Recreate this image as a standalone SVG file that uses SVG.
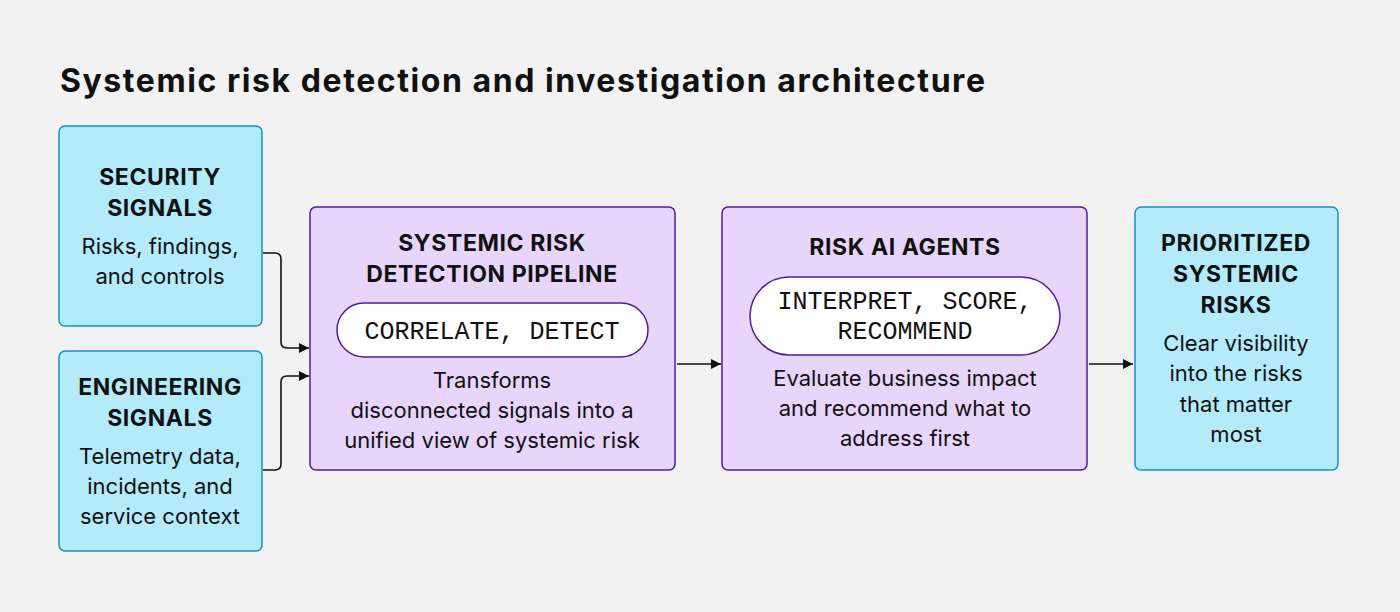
<svg xmlns="http://www.w3.org/2000/svg" width="1400" height="612" viewBox="0 0 1400 612">
<defs>
<style>
.blue{fill:#b3ebfb;stroke:#1a8fc7;stroke-width:1.5}
.purp{fill:#e7d5fc;stroke:#4f1d9c;stroke-width:1.5}
.pill{fill:#fff;stroke:#4f1d9c;stroke-width:1.5}
.t{font-family:Inter,"Liberation Sans",sans-serif;font-size:22px;fill:#111;text-anchor:middle}
.b{font-weight:700;font-size:23px;letter-spacing:0.6px}
.m{font-family:"Liberation Mono","DejaVu Sans Mono",monospace;font-size:25px;fill:#111;text-anchor:middle}
.c{fill:none;stroke:#111;stroke-width:1.6}
</style>
<marker id="a" viewBox="0 0 10 10" refX="10" refY="5" markerWidth="10" markerHeight="10" markerUnits="userSpaceOnUse" orient="auto"><path d="M0,0L10,5L0,10z" fill="#111"/></marker>
</defs>
<rect width="1400" height="612" fill="#f2f2f2"/>
<text x="60" y="92" font-family="Inter,'Liberation Sans',sans-serif" font-size="32" font-weight="700" fill="#111" textLength="925" lengthAdjust="spacing">Systemic risk detection and investigation architecture</text>
<g id="connectors">
<path class="c" d="M263,253H275Q281,253 281,259V342Q281,348 287,348H309" marker-end="url(#a)"/>
<path class="c" d="M263,470H275Q281,470 281,464V382Q281,376 287,376H309" marker-end="url(#a)"/>
<path class="c" d="M677,364H721" marker-end="url(#a)"/>
<path class="c" d="M1089,364H1133" marker-end="url(#a)"/>
</g>
<g id="security">
<rect class="blue" x="59" y="126" width="203" height="200" rx="6"/>
<text class="t b" x="160" y="185">SECURITY</text>
<text class="t b" x="160" y="216">SIGNALS</text>
<text class="t" x="160" y="254">Risks, findings,</text>
<text class="t" x="160" y="284">and controls</text>
</g>
<g id="engineering">
<rect class="blue" x="59" y="351" width="203" height="200" rx="6"/>
<text class="t b" x="160" y="395">ENGINEERING</text>
<text class="t b" x="160" y="426">SIGNALS</text>
<text class="t" x="160" y="464">Telemetry data,</text>
<text class="t" x="160" y="494">incidents, and</text>
<text class="t" x="160" y="524">service context</text>
</g>
<g id="pipeline">
<rect class="purp" x="310" y="207" width="365" height="263" rx="6"/>
<text class="t b" x="492" y="251">SYSTEMIC RISK</text>
<text class="t b" x="492" y="282">DETECTION PIPELINE</text>
<rect class="pill" x="337" y="303" width="311" height="54" rx="27"/>
<text class="m" x="492" y="339">CORRELATE, DETECT</text>
<text class="t" x="492" y="388">Transforms</text>
<text class="t" x="492" y="418">disconnected signals into a</text>
<text class="t" x="492" y="448">unified view of systemic risk</text>
</g>
<g id="agents">
<rect class="purp" x="722" y="207" width="365" height="263" rx="6"/>
<text class="t b" x="905" y="255">RISK AI AGENTS</text>
<rect class="pill" x="750" y="277" width="310" height="78" rx="39"/>
<text class="m" x="905" y="309">INTERPRET, SCORE,</text>
<text class="m" x="905" y="339">RECOMMEND</text>
<text class="t" x="905" y="386">Evaluate business impact</text>
<text class="t" x="905" y="416">and recommend what to</text>
<text class="t" x="905" y="446">address first</text>
</g>
<g id="prioritized">
<rect class="blue" x="1135" y="207" width="203" height="263" rx="6"/>
<text class="t b" x="1236" y="251">PRIORITIZED</text>
<text class="t b" x="1236" y="282">SYSTEMIC</text>
<text class="t b" x="1236" y="313">RISKS</text>
<text class="t" x="1236" y="351">Clear visibility</text>
<text class="t" x="1236" y="381">into the risks</text>
<text class="t" x="1236" y="412">that matter</text>
<text class="t" x="1236" y="442">most</text>
</g>
</svg>
